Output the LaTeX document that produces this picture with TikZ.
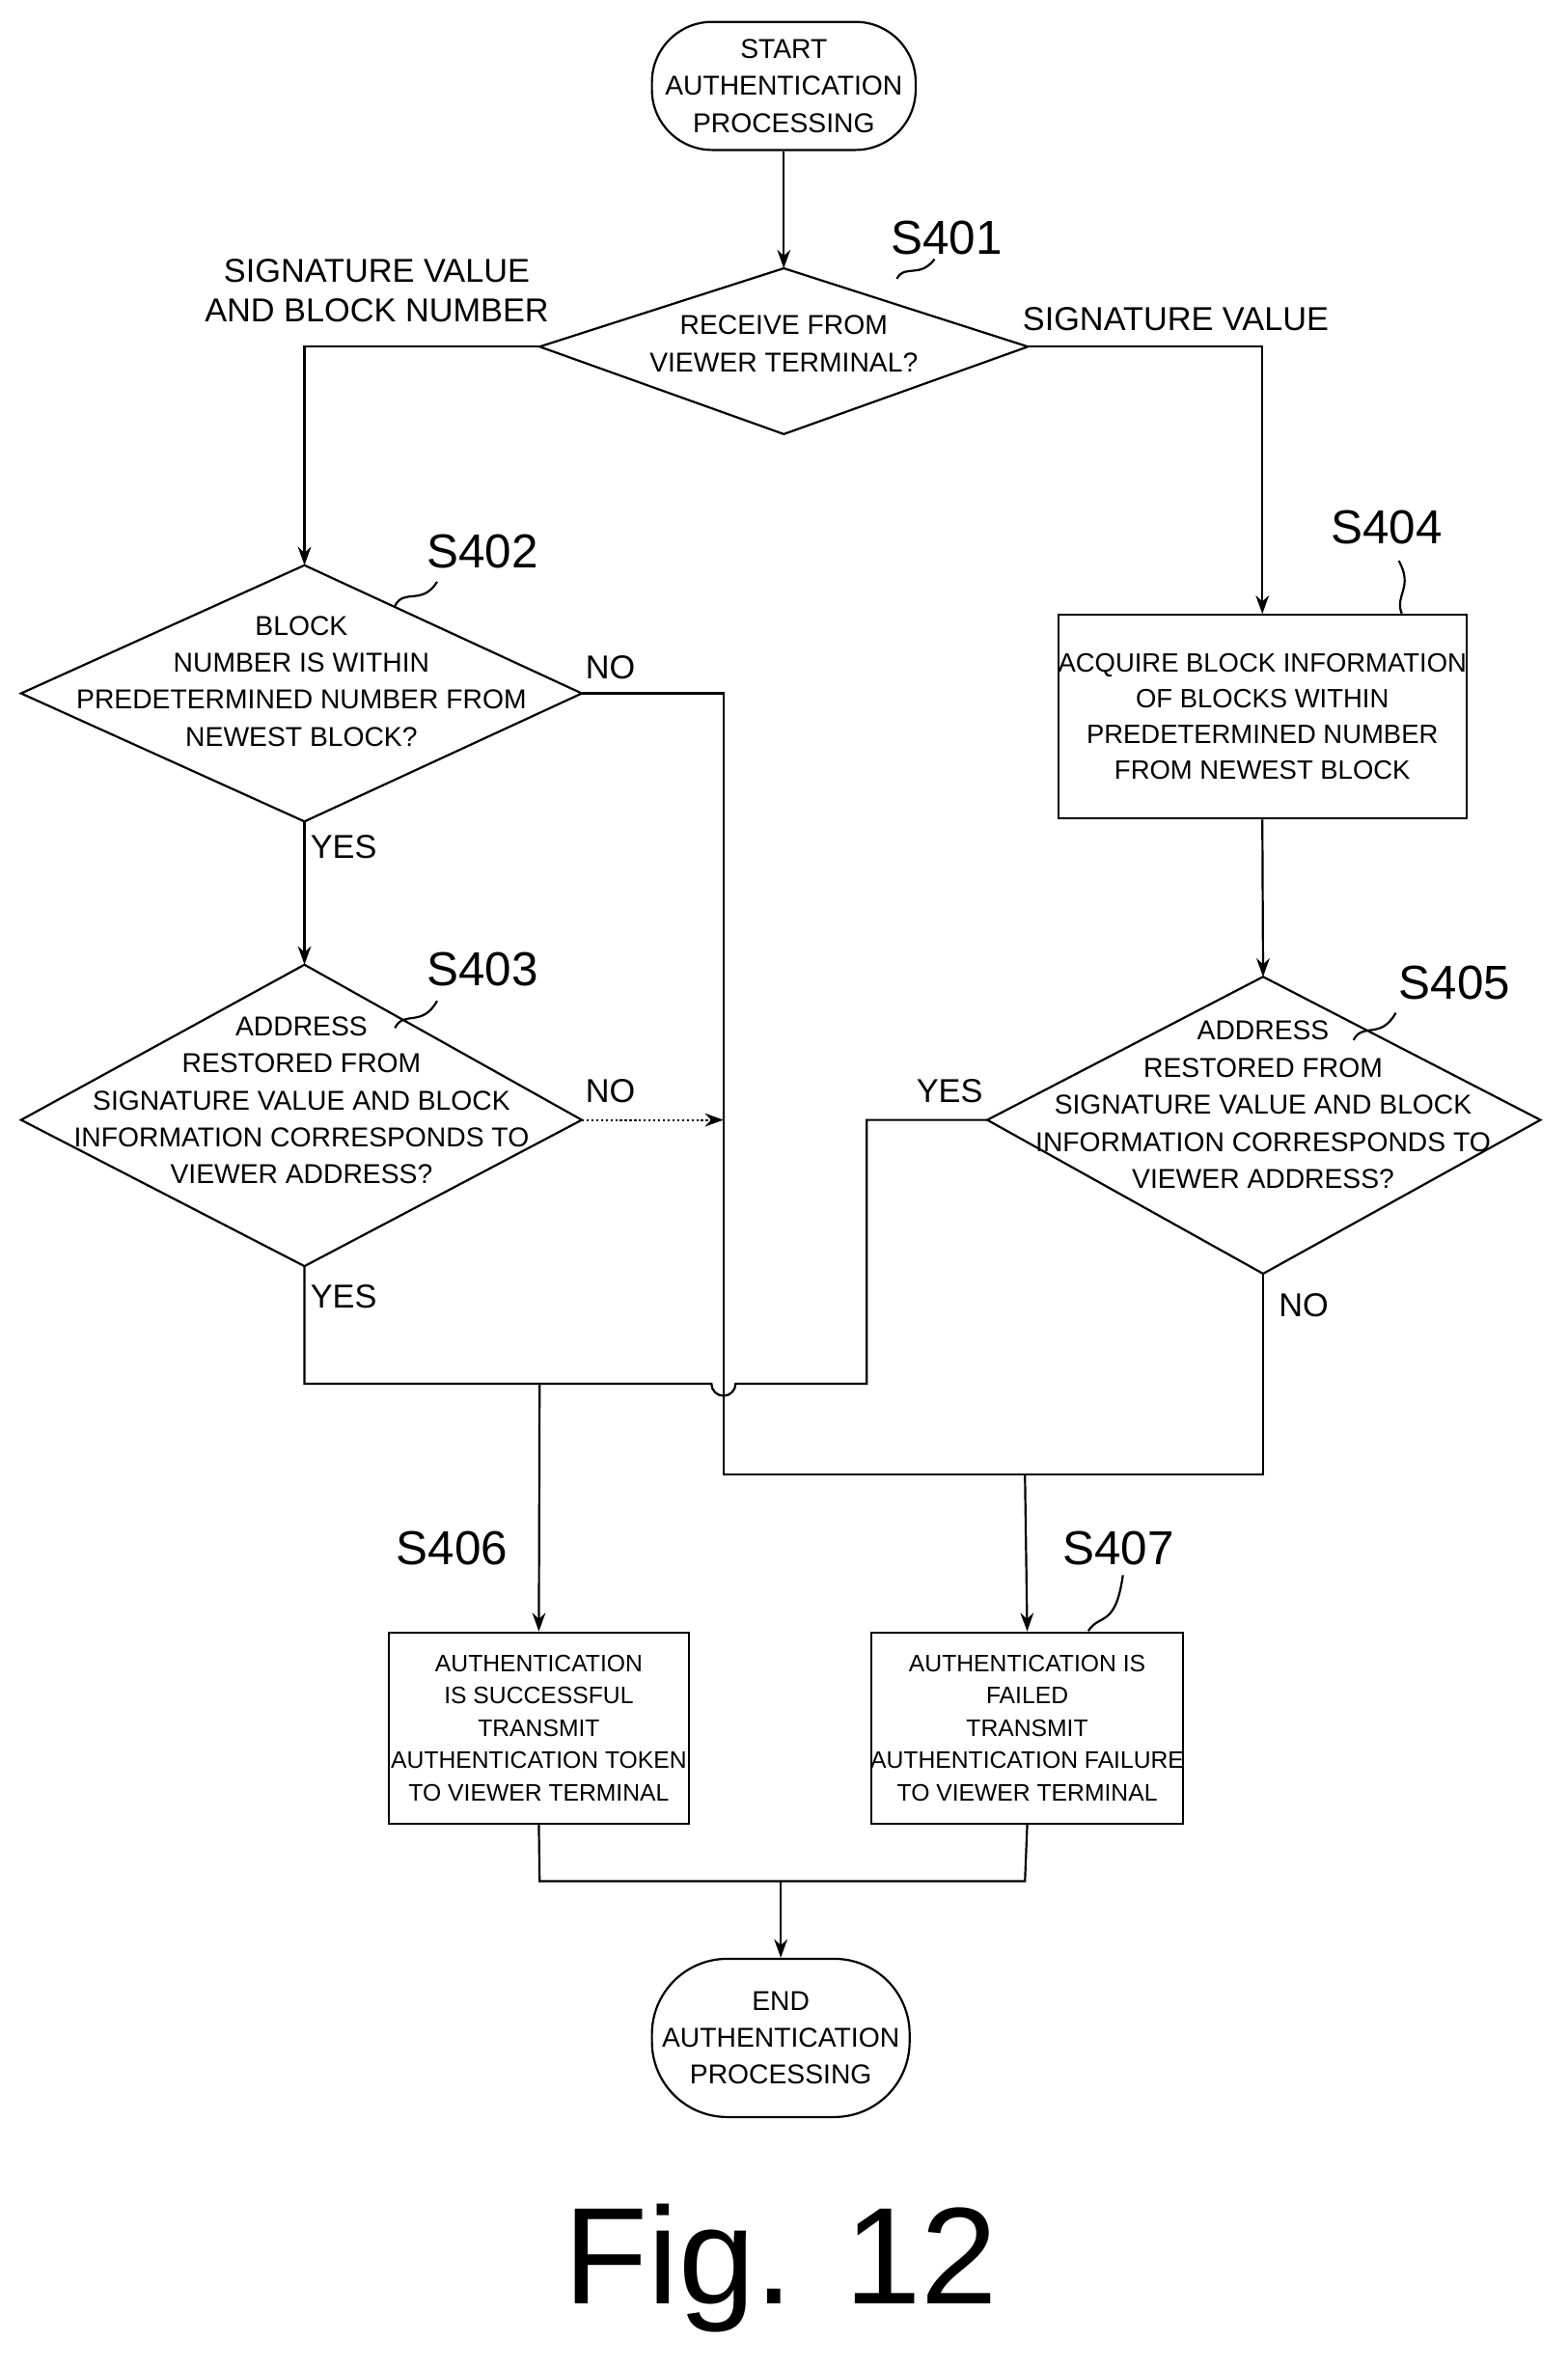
\documentclass[tikz,border=0pt]{standalone}
\usepackage{fontspec}
\setmainfont{Liberation Sans}
\usetikzlibrary{arrows.meta}
\begin{document}
\begin{tikzpicture}[x=0.02cm,y=-0.02cm,
  ln/.style={line width=0.8pt},
  ar/.style={ln,-{Stealth[length=7pt,width=5pt]}},
  txt/.style={align=center,font=\fontsize{10.3}{14}\selectfont,inner sep=0pt},
  btxt/.style={align=center,font=\fontsize{9}{12.2}\selectfont,inner sep=0pt},
  lab/.style={font=\fontsize{12.5}{15}\selectfont,inner sep=0pt},
  stp/.style={font=\fontsize{18}{20}\selectfont,inner sep=0pt},
  term/.style={draw,ln,rounded corners=0.8cm,minimum width=3.5cm,minimum height=1.7cm},
  box/.style={draw,ln,rectangle,inner sep=0pt}]
\useasboundingbox (0,0) rectangle (1040,1571);
% terminals
\node[term] (start) at (520,57) {};
\node[txt] at (520,57) {START\\AUTHENTICATION\\PROCESSING};
\node[term,minimum width=3.42cm,minimum height=2.1cm,rounded corners=1cm] (end) at (518,1352) {};
\node[txt] at (518,1352) {END\\AUTHENTICATION\\PROCESSING};
% S401
\coordinate (a1l) at (358,230); \coordinate (a1r) at (682,230);
\coordinate (a1t) at (520,178); \coordinate (a1b) at (520,288);
\draw[ln] (a1l)--(a1t)--(a1r)--(a1b)--cycle;
\node[txt] (t401) at (520,228) {RECEIVE FROM\\VIEWER TERMINAL?};
\node[stp] (s401) at (628,158) {S401};
\draw[ln] (595,185) .. controls (600,175) and (610,185) .. (620,172);
\draw[ar] (start) -- (a1t);
\node[lab,align=center] at (250,193) {SIGNATURE VALUE\\AND BLOCK NUMBER};
\node[lab] at (780,212) {SIGNATURE VALUE};
% S402
\coordinate (a2l) at (14,460); \coordinate (a2r) at (386,460);
\coordinate (a2t) at (202,375); \coordinate (a2b) at (202,545);
\draw[ln] (a2l)--(a2t)--(a2r)--(a2b)--cycle;
\node[txt] at (200,452) {BLOCK\\NUMBER IS WITHIN\\PREDETERMINED NUMBER FROM\\NEWEST BLOCK?};
\node[stp] at (320,366) {S402};
\draw[ln] (262,402) .. controls (268,390) and (280,402) .. (290,386);
\draw[ar] (a1l) -| (a2t);
\node[lab] at (405,443) {NO};
\node[lab] at (228,562) {YES};
% S403
\coordinate (a3l) at (14,743); \coordinate (a3r) at (386,743);
\coordinate (a3t) at (202,640); \coordinate (a3b) at (202,840);
\draw[ln] (a3l)--(a3t)--(a3r)--(a3b)--cycle;
\node[txt] at (200,730) {ADDRESS\\RESTORED FROM\\SIGNATURE VALUE AND BLOCK\\INFORMATION CORRESPONDS TO\\VIEWER ADDRESS?};
\node[stp] at (320,643) {S403};
\draw[ln] (262,682) .. controls (268,670) and (280,682) .. (290,664);
\draw[ar] (a2b) -- (a3t);
\node[lab] at (405,724) {NO};
\node[lab] at (228,860) {YES};
\draw[ar,densely dotted] (a3r) -- (480,743);
% S404
\node[box,minimum width=5.42cm,minimum height=2.7cm] (b404) at (837.5,475.5) {};
\node[btxt,font=\fontsize{10}{13.5}\selectfont] at (837.5,475.5) {ACQUIRE BLOCK INFORMATION\\OF BLOCKS WITHIN\\PREDETERMINED NUMBER\\FROM NEWEST BLOCK};
\node[stp] at (920,350) {S404};
\draw[ln] (930,407) .. controls (925,395) and (938,390) .. (928,372);
\draw[ar] (a1r) -| (b404.north);
% S405
\coordinate (a5l) at (655,743); \coordinate (a5r) at (1022,743);
\coordinate (a5t) at (838,648); \coordinate (a5b) at (838,845);
\draw[ln] (a5l)--(a5t)--(a5r)--(a5b)--cycle;
\node[txt] at (838,733) {ADDRESS\\RESTORED FROM\\SIGNATURE VALUE AND BLOCK\\INFORMATION CORRESPONDS TO\\VIEWER ADDRESS?};
\node[stp] at (965,652) {S405};
\draw[ln] (898,690) .. controls (904,678) and (916,690) .. (926,672);
\draw[ar] (b404.south) -- (a5t);
\node[lab] at (630,724) {YES};
\node[lab] at (865,866) {NO};
% S406 / S407
\node[box,minimum width=3.98cm,minimum height=2.54cm] (b406) at (357.5,1146.5) {};
\node[btxt] at (357.5,1146.5) {AUTHENTICATION\\IS SUCCESSFUL\\TRANSMIT\\AUTHENTICATION TOKEN\\TO VIEWER TERMINAL};
\node[stp] at (300,1027) {S406};
\node[box,minimum width=4.14cm,minimum height=2.54cm] (b407) at (681.5,1146.5) {};
\node[btxt] at (681.5,1146.5) {AUTHENTICATION IS\\FAILED\\TRANSMIT\\AUTHENTICATION FAILURE\\TO VIEWER TERMINAL};
\node[stp] at (742,1027) {S407};
\draw[ln] (722,1082) .. controls (730,1070) and (740,1080) .. (745,1045);
% success path
\draw[ln] (a3b) -- (202,918) -- (472,918) arc (180:0:8) -- (575,918) -- (575,743) -- (a5l);
\draw[ar] (358,918) -- (b406.north);
% failure path
\draw[ln] (a2r) -- (480,460) -- (480,978) -- (838,978) -- (a5b);
\draw[ar] (680,978) -- (b407.north);
% merge
\draw[ln] (b406.south) -- (358,1248) -- (680,1248) -- (b407.south);
\draw[ar] (518,1248) -- (end);
\node[font=\fontsize{52}{56}\selectfont,inner sep=0pt] (fig) at (518,1505) {Fig. 12};
\end{tikzpicture}
\end{document}
